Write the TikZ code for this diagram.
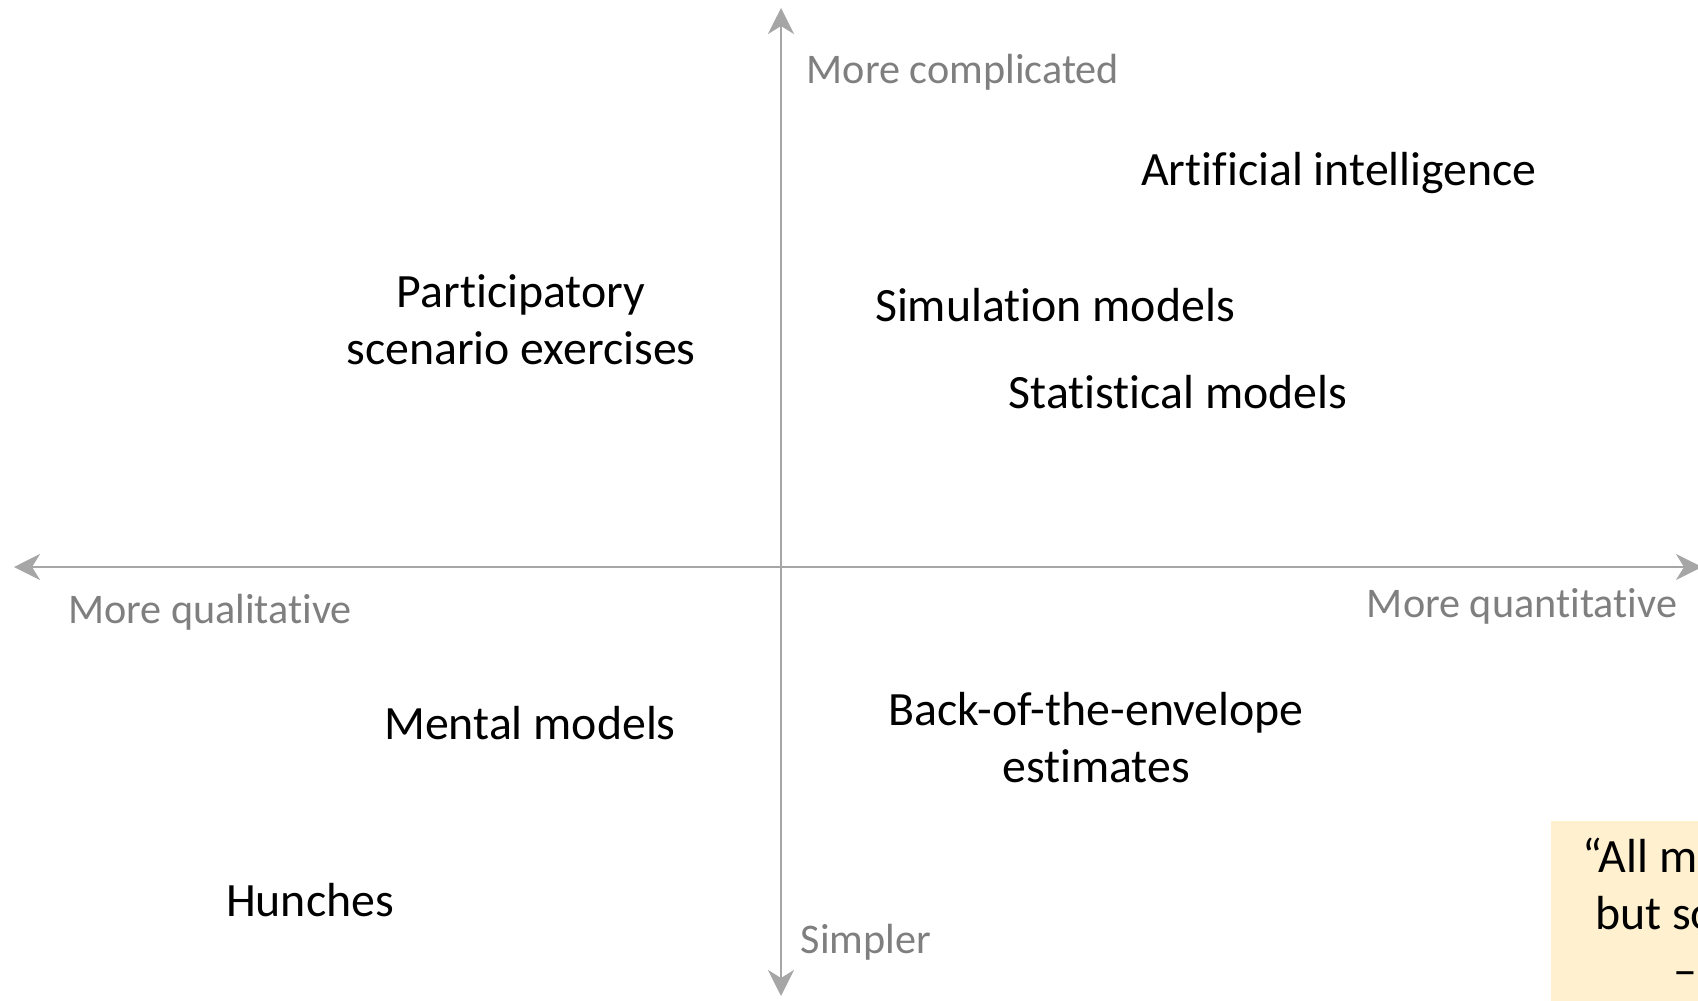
\documentclass[tikz,border=0pt]{standalone}
\usepackage{fontspec}
\setmainfont{Carlito}[RawFeature=-liga]
\usetikzlibrary{arrows.meta}
\definecolor{axisgray}{HTML}{A6A6A6}
\definecolor{labelgray}{HTML}{7F7F7F}
\definecolor{notebg}{HTML}{FFF0CF}
\tikzset{
	axis/.style={draw=axisgray, line width=0.8pt, -{Stealth[length=0.26cm, width=0.26cm, inset=0.08cm]}},
	axislabel/.style={text=labelgray, inner sep=0pt, font=\fontsize{12}{14.5}\selectfont},
	method/.style={inner sep=0pt, align=center, font=\fontsize{13.6}{16.2}\selectfont},
}
\begin{document}
\begin{tikzpicture}[x=0.01cm, y=-0.01cm, line join=round, line cap=round]
	\def\xO{781} \def\yO{567} % goc toa do
	\def\xmin{14} \def\xmax{1702}
	\def\ymin{8} \def\ymax{996}
	\useasboundingbox (0,0) rectangle (1698,1000);
	\clip (0,0) rectangle (1698,1000);
	% o ghi chu
	\fill[notebg] (1551,821) rectangle (2050,1040);
	\node[method] (quote) at (1802,916) {“All models are wrong,\\but some are useful.”\\– George Box};
	% truc
	\coordinate (O) at (\xO,\yO);
	\coordinate (top) at (\xO,\ymin);
	\coordinate (bottom) at (\xO,\ymax);
	\coordinate (left) at (\xmin,\yO);
	\coordinate (right) at (\xmax,\yO);
	\draw[axis] (O)--(top);
	\draw[axis] (O)--(bottom);
	\draw[axis] (O)--(left);
	\draw[axis] (O)--(right);
	\node[axislabel, anchor=base west] (complicated) at (806,83) {More complicated};
	\node[axislabel, anchor=base west] (simpler) at (800,953) {Simpler};
	\node[axislabel, anchor=base] (qualitative) at (210,623) {More qualitative};
	\node[axislabel, anchor=base] (quantitative) at (1522,617) {More quantitative};
	% cac phuong phap
	\node[method, anchor=base] (ai) at (1339,185) {Artificial intelligence};
	\node[method] (participatory) at (521,320) {Participatory\\scenario exercises};
	\node[method, anchor=base] (simulation) at (1055,321) {Simulation models};
	\node[method, anchor=base] (statistical) at (1178,408) {Statistical models};
	\node[method, anchor=base] (mental) at (530,739) {Mental models};
	\node[method] (envelope) at (1096,738) {Back-of-the-envelope\\estimates};
	\node[method, anchor=base] (hunches) at (310,916) {Hunches};
\end{tikzpicture}
\end{document}
